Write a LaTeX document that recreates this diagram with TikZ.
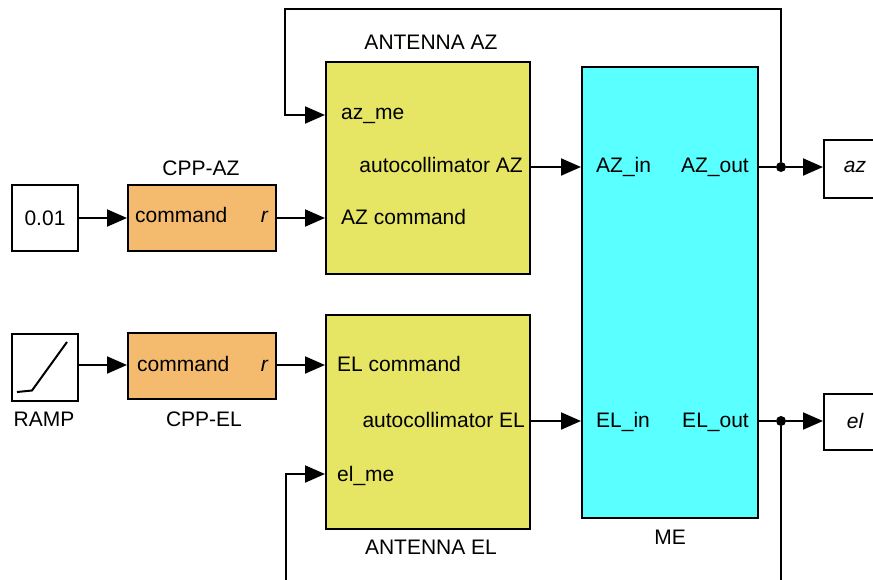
\documentclass[tikz,border=0pt]{standalone}
\usepackage{fontspec}
\setmainfont{Liberation Sans}
\usetikzlibrary{arrows.meta}
\definecolor{cppc}{RGB}{244,186,110}
\definecolor{antc}{RGB}{230,230,100}
\definecolor{mec}{RGB}{90,255,255}
\tikzset{
  blk/.style={draw, line width=2pt, inner sep=0pt, anchor=north west},
  txt/.style={inner sep=0pt},
  arr/.style={line width=2pt, -{Triangle[length=20pt,width=17pt]}},
  wire/.style={line width=2pt},
  dot/.style={circle, fill, inner sep=0pt, minimum size=10pt},
}
\begin{document}
\begin{tikzpicture}[x=1pt,y=-1pt,font=\fontsize{21}{25}\selectfont]
\useasboundingbox (0,0) rectangle (873,579);
% blocks
\node[blk, fill=white, minimum width=66pt, minimum height=66pt] (c001) at (11,184) {};
\node[txt] (t001) at (c001.center) {0.01};
\node[blk, fill=cppc, minimum width=148pt, minimum height=66pt] (cppaz) at (127,184) {};
\node[txt] (lcppaz) at (201,168) {CPP-AZ};
\node[txt, anchor=mid west] (tcmdaz) at (135,220) {command};
\node[txt, anchor=mid east] (traz) at (268,220) {\itshape r};

\node[blk, fill=white, minimum width=66pt, minimum height=67pt] (ramp) at (11,333) {};
\draw[wire] (17,392) -- (32,390.5) -- (67,342);
\node[txt] (lramp) at (44,419) {RAMP};
\node[blk, fill=cppc, minimum width=148pt, minimum height=66pt] (cppel) at (127,332) {};
\node[txt] (lcppel) at (204,419) {CPP-EL};
\node[txt, anchor=mid west] (tcmdel) at (137,369) {command};
\node[txt, anchor=mid east] (trel) at (268,369) {\itshape r};

\node[blk, fill=antc, minimum width=204pt, minimum height=212pt] (antaz) at (325,61) {};
\node[txt] (lantaz) at (431,42) {ANTENNA AZ};
\node[txt, anchor=mid west] (tazme) at (341,117) {az\_me};
\node[txt, anchor=mid east] (tacaz) at (523,170) {autocollimator AZ};
\node[txt, anchor=mid west] (tazcmd) at (341,222) {AZ command};

\node[blk, fill=antc, minimum width=204pt, minimum height=214pt] (antel) at (325,314) {};
\node[txt] (lantel) at (431,547) {ANTENNA EL};
\node[txt, anchor=mid west] (telcmd) at (337,369) {EL command};
\node[txt, anchor=mid east] (tacel) at (525,425) {autocollimator EL};
\node[txt, anchor=mid west] (telme) at (337,479) {el\_me};

\node[blk, fill=mec, minimum width=176pt, minimum height=451pt] (me) at (581,66) {};
\node[txt] (lme) at (670,537) {ME};
\node[txt, anchor=mid west] (tazin) at (596,170) {AZ\_in};
\node[txt, anchor=mid east] (tazout) at (749,170) {AZ\_out};
\node[txt, anchor=mid west] (telin) at (596,425) {EL\_in};
\node[txt, anchor=mid east] (telout) at (749,425) {EL\_out};

\node[blk, fill=white, minimum width=70pt, minimum height=58pt] (azb) at (823,139) {};
\node[txt] (taz) at (855,167) {\itshape az};
\node[blk, fill=white, minimum width=70pt, minimum height=56pt] (elb) at (823,393) {};
\node[txt] (tel) at (855,421) {\itshape el};

% ports and bends
\coordinate (azme) at (325,115);
\coordinate (elme) at (325,474);
\coordinate (topl) at (285,9);
\coordinate (botl) at (286,590);
\coordinate (botr) at (781,590);
\node[dot] (dotaz) at (781,167) {};
\node[dot] (dotel) at (781,421) {};

% connectors
\draw[arr] (c001.east) -- (cppaz.west);
\draw[arr] (cppaz.east) -- (antaz.west |- cppaz.east);
\draw[arr] (ramp.east |- 0,365) -- (cppel.west |- 0,365);
\draw[arr] (cppel.east |- 0,365) -- (antel.west |- 0,365);
\draw[arr] (antaz.east |- dotaz) -- (me.west |- dotaz);
\draw[arr] (antel.east |- dotel) -- (me.west |- dotel);
\draw[wire] (me.east |- dotaz) -- (dotaz);
\draw[arr] (dotaz) -- (azb.west |- dotaz);
\draw[wire] (me.east |- dotel) -- (dotel);
\draw[arr] (dotel) -- (elb.west |- dotel);
\draw[arr] (dotaz) -- (dotaz |- topl) -- (topl) |- (azme);
\draw[wire] (dotel) -- (botr);
\draw[arr] (botl) |- (elme);
\end{tikzpicture}
\end{document}
